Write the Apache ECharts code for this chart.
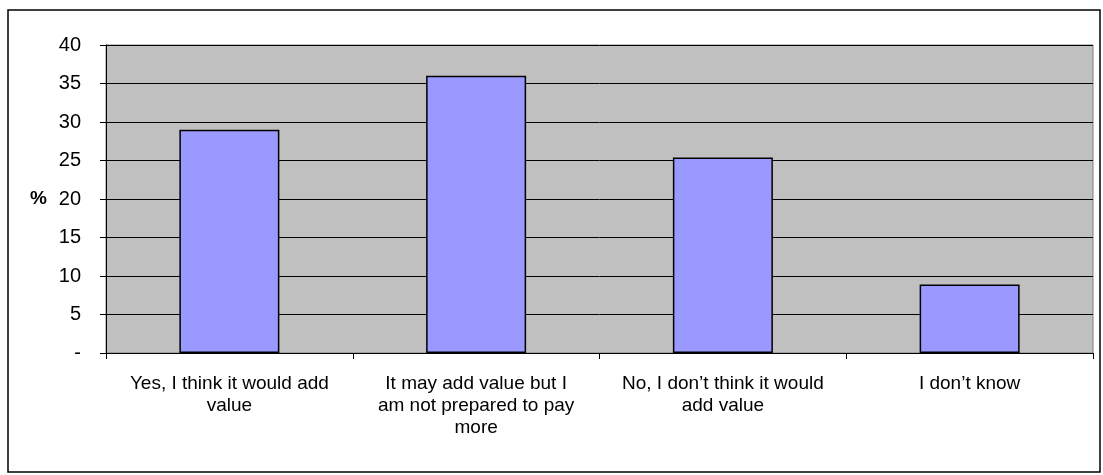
<!DOCTYPE html>
<html>
<head>
<meta charset="utf-8">
<script src="https://cdn.jsdelivr.net/npm/echarts@6/dist/echarts.min.js"></script>
<style>
  html, body { margin: 0; padding: 0; background: #fff; }
  #chart { width: 1103px; height: 475px; }
</style>
</head>
<body>
<div id="chart"></div>
<script>
// categories (wrapped as in the original)
var categories = [
    'Yes, I think it would add\nvalue',
    'It may add value but I\nam not prepared to pay\nmore',
    'No, I don\u2019t think it would\nadd value',
    'I don\u2019t know'
];
var percents = [29, 36, 25.4, 8.9];
var yTicks = [0, 5, 10, 15, 20, 25, 30, 35, 40];

var chart = echarts.init(document.getElementById('chart'));

var option = {
    animation: false,
    textStyle: { fontFamily: 'Liberation Sans, Arial, sans-serif' },
    graphic: [{
        type: 'rect',
        shape: { x: 8, y: 10, width: 1092, height: 462 },
        style: { fill: 'none', stroke: '#000', lineWidth: 1.5 },
        silent: true
    }],
    grid: {
        left: 106, right: 10, top: 45, bottom: 122,
        show: true,
        backgroundColor: '#C0C0C0',
        borderColor: '#808080',
        borderWidth: 1
    },
    xAxis: {
        type: 'category',
        data: categories,
        axisLine: { lineStyle: { color: '#000', width: 1 } },
        axisTick: { show: true, length: 6, alignWithLabel: false, lineStyle: { color: '#000' } },
        axisLabel: {
            interval: 0,
            margin: 20,
            color: '#000',
            fontSize: 19,
            lineHeight: 22,
            fontFamily: 'Liberation Sans, Arial, sans-serif'
        }
    },
    yAxis: {
        type: 'value',
        min: yTicks[0],
        max: yTicks[yTicks.length - 1],
        interval: 5,
        name: '%',
        nameLocation: 'middle',
        nameRotate: 0,
        nameGap: 59,
        nameTextStyle: { fontWeight: 'bold', fontSize: 19, color: '#000' },
        axisLine: { show: true, lineStyle: { color: '#000', width: 1 } },
        axisTick: { show: true, length: 6, lineStyle: { color: '#000' } },
        axisLabel: {
            margin: 25,
            color: '#000',
            fontSize: 20,
            formatter: function (v) { return v === 0 ? '-' : v; }
        },
        splitLine: { show: true, lineStyle: { color: '#000', width: 1 } }
    },
    series: [{
        type: 'bar',
        data: percents,
        barWidth: 100,
        itemStyle: { color: '#9999FF', borderColor: '#000', borderWidth: 1.5 }
    }]
};

chart.setOption(option);
</script>
</body>
</html>
